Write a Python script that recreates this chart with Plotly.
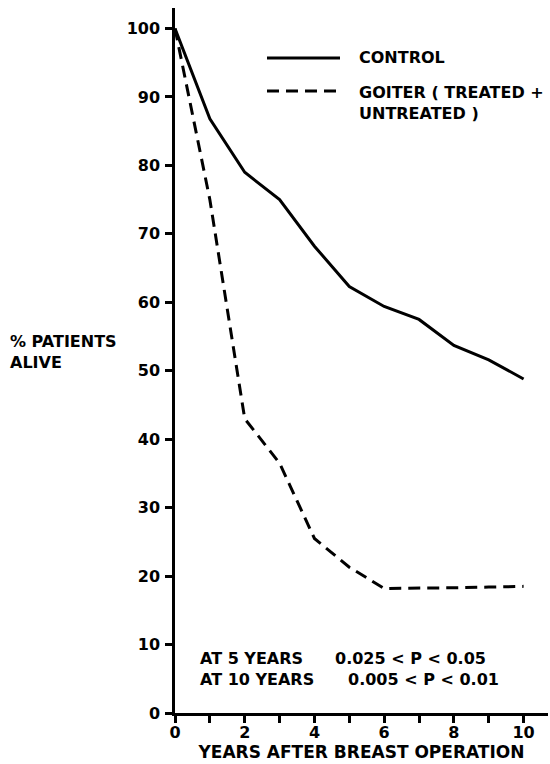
import plotly.graph_objects as go

# ---- data ----
years = [0, 1, 2, 3, 4, 5, 6, 7, 8, 9, 10]
control = [100, 86.8, 79.0, 75.0, 68.2, 62.3, 59.4, 57.5, 53.7, 51.6, 48.8]
goiter = [100, 75.0, 43.0, 36.5, 25.5, 21.3, 18.2, 18.2, 18.3, 18.4, 18.5]
series_names = ["CONTROL", "GOITER ( TREATED +<br>UNTREATED )"]
y_ticks = [0, 10, 20, 30, 40, 50, 60, 70, 80, 90, 100]
x_ticks = [0, 2, 4, 6, 8, 10]
x_tick_labels = ["0", "2", "4", "6", "8", "10"]

W, H = 550, 764
L, R, T, B = 175, 2, 8, 51
FONT = "DejaVu Sans"


def px(X):
    return (X - L) / (W - L - R)


def py(Y):
    return (H - B - Y) / (H - T - B)


def bold(size):
    return dict(family=FONT, size=size, color="black", weight="bold")


fig = go.Figure()
fig.add_trace(go.Scatter(x=years, y=control, mode="lines", name=series_names[0],
                         line=dict(color="black", width=3), showlegend=False))
fig.add_trace(go.Scatter(x=years, y=goiter, mode="lines", name=series_names[1],
                         line=dict(color="black", width=3, dash="12px,7px"), showlegend=False))

# manual legend
fig.add_shape(type="line", xref="paper", yref="paper", x0=px(267), x1=px(340), y0=py(58), y1=py(58),
              line=dict(color="black", width=3))
fig.add_shape(type="line", xref="paper", yref="paper", x0=px(267), x1=px(340), y0=py(91), y1=py(91),
              line=dict(color="black", width=3, dash="12px,7px"))
fig.add_annotation(xref="paper", yref="paper", x=px(357), y=py(58), text=series_names[0],
                   showarrow=False, xanchor="left", yanchor="middle", font=bold(16))
fig.add_annotation(xref="paper", yref="paper", x=px(357), y=py(81), text=series_names[1],
                   showarrow=False, xanchor="left", yanchor="top", align="left", font=bold(16))

# y-axis label
fig.add_annotation(xref="paper", yref="paper", x=px(8), y=py(330), text="% PATIENTS<br>ALIVE",
                   showarrow=False, xanchor="left", yanchor="top", align="left", font=bold(16))

# p-value notes
notes = [("AT 5 YEARS", "0.025 < P < 0.05", 658, 333), ("AT 10 YEARS", "0.005 < P < 0.01", 679, 346)]
for lab, pv, yy, xx in notes:
    fig.add_annotation(xref="paper", yref="paper", x=px(198), y=py(yy), text=lab, showarrow=False,
                       xanchor="left", yanchor="middle", font=bold(16))
    fig.add_annotation(xref="paper", yref="paper", x=px(xx), y=py(yy), text=pv, showarrow=False,
                       xanchor="left", yanchor="middle", font=bold(16))

fig.update_layout(
    width=W, height=H,
    margin=dict(l=L, r=R, t=T, b=B, autoexpand=False),
    plot_bgcolor="white", paper_bgcolor="white",
    font=dict(family=FONT, size=15, color="black"),
    xaxis=dict(range=[0, 10.7], tickvals=x_ticks, ticktext=x_tick_labels,
               showline=True, linecolor="black", linewidth=2.5, showgrid=False, zeroline=False,
               ticks="outside", ticklen=7, tickwidth=2.5, tickcolor="black",
               minor=dict(tickvals=years, ticks="outside", ticklen=7, tickwidth=2.5, tickcolor="black"),
               tickfont=bold(16), ticklabelstandoff=-4,
               title=dict(text="YEARS AFTER BREAST OPERATION", standoff=2, font=bold(17)),
               automargin=False),
    yaxis=dict(range=[0, 103], tickvals=y_ticks,
               showline=True, linecolor="black", linewidth=2.5, showgrid=False, zeroline=False,
               ticks="outside", ticklen=7, tickwidth=2.5, tickcolor="black",
               tickfont=bold(16), ticklabelstandoff=2,
               automargin=False),
)

fig.write_html("out.html")
